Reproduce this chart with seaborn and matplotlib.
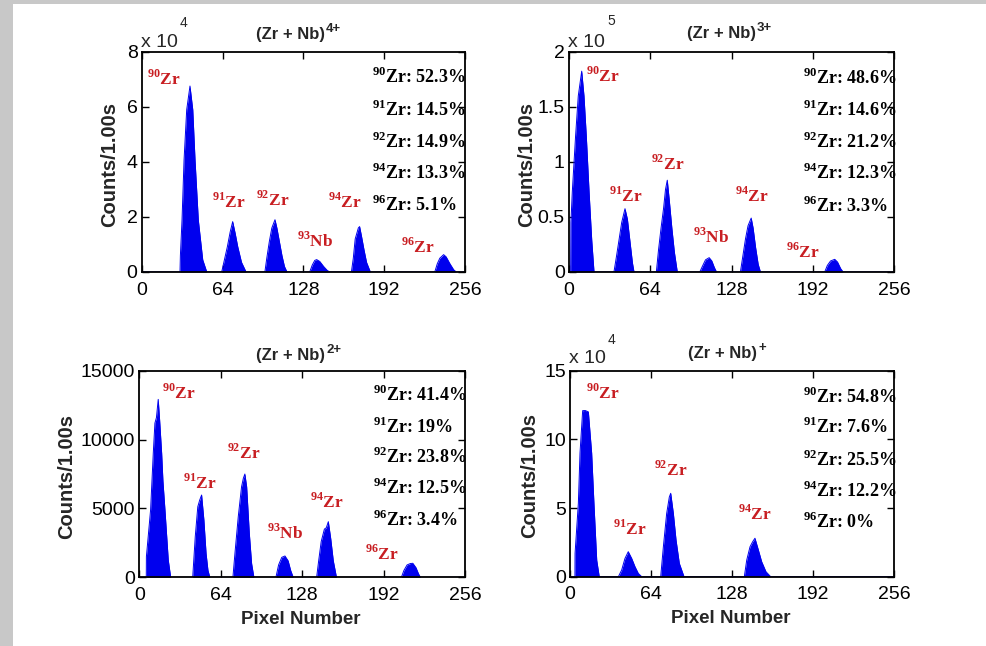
import matplotlib
matplotlib.use("Agg")
import matplotlib.pyplot as plt
import seaborn as sns
from matplotlib.patches import Rectangle

# ---------------- data ----------------
# (Zr + Nb)4+ : counts in units of 1e4
pix_4 = [0, 30.3, 30.6, 31.9, 33.5, 35.6, 38.2, 40.4, 42.2, 44.8, 48.3, 51.5,
         63.3, 65.5, 67.8, 70, 72, 74, 76, 79, 82.6,
         97.5, 99, 101, 103, 105.5, 107, 109, 111, 113, 115,
         133, 135, 137, 138.5, 141, 144, 147, 149,
         166, 167.5, 169, 171.5, 172.5, 174, 176, 178, 181,
         232, 234, 236, 239, 241, 244, 247, 249, 256]
cnt_4 = [0, 0, 0.6, 1.89, 4.07, 5.9, 6.76, 5.9, 4.07, 1.89, 0.44, 0,
         0, 0.45, 0.92, 1.45, 1.83, 1.4, 0.92, 0.35, 0,
         0, 0.5, 1.1, 1.6, 1.9, 1.6, 1.1, 0.6, 0.2, 0,
         0, 0.25, 0.42, 0.45, 0.38, 0.2, 0.05, 0,
         0, 0.5, 1.2, 1.6, 1.65, 1.3, 0.8, 0.35, 0,
         0, 0.3, 0.5, 0.63, 0.55, 0.3, 0.08, 0, 0]

# (Zr + Nb)3+ : counts in units of 1e5
pix_3 = [0, 1.3, 1.5, 2.6, 5.2, 7.3, 10.0, 11.8, 13.6, 15.8, 17.9, 19.7,
         35.4, 37.5, 39.5, 41.5, 44.1, 46, 48, 50, 51.2,
         68.8, 70.5, 72.5, 74.5, 76, 77.4, 79, 81, 83, 85.3,
         103, 105, 107.5, 110.4, 112.5, 114.5, 116.2,
         135, 137, 139, 141, 143.5, 145, 147, 149, 150.8,
         201.4, 203.5, 206, 209.3, 211.5, 214, 215.9, 256]
cnt_3 = [0, 0, 0.45, 0.73, 1.24, 1.6, 1.825, 1.6, 1.24, 0.73, 0.29, 0,
         0, 0.15, 0.3, 0.45, 0.575, 0.48, 0.28, 0.08, 0,
         0, 0.2, 0.4, 0.58, 0.75, 0.834, 0.65, 0.4, 0.18, 0,
         0, 0.05, 0.11, 0.13, 0.1, 0.04, 0,
         0, 0.15, 0.3, 0.42, 0.49, 0.4, 0.22, 0.07, 0,
         0, 0.06, 0.1, 0.115, 0.09, 0.03, 0, 0]

# (Zr + Nb)2+ : counts
pix_2 = [0, 5.5, 5.6, 8.9, 11.0, 12.3, 13.5, 14.9, 16.0, 17.6, 18.6, 20.2, 22.8, 24.7,
         42, 44, 46, 47.5, 49, 50.8, 52.5, 54, 55.5,
         73.6, 75.2, 77.8, 80.4, 81.8, 83, 84.4, 86.5, 88.3, 90.1,
         107.4, 109.5, 112, 114.5, 117, 119, 121,
         139.4, 141, 143, 145.5, 147, 148.6, 150.5, 152.5, 155,
         206, 208, 210.5, 213, 215, 217.5, 219.5, 221, 256]
cnt_2 = [0, 0, 1500, 4890, 9000, 11200, 11600, 12920, 11420, 9000, 7000, 4890, 1250, 0,
         0, 2950, 5130, 5610, 5975, 4160, 1740, 500, 0,
         0, 1740, 4400, 6580, 7190, 7500, 6580, 3190, 1000, 0,
         0, 900, 1450, 1550, 1200, 500, 0,
         0, 1200, 2600, 3500, 3600, 4040, 2800, 1200, 0,
         0, 500, 900, 1000, 1020, 700, 250, 0, 0]

# (Zr + Nb)+ : counts in units of 1e4
pix_1 = [0, 3.9, 4.0, 6.6, 7.9, 10.0, 12.0, 14.5, 17.1, 18.9, 21.1, 23.1,
         38.2, 40.8, 43.4, 46, 48.7, 51.3, 53.9, 56.6,
         71.6, 73.7, 76.3, 78.4, 79.5, 81.6, 83.7, 86.3, 90,
         137.6, 139.5, 142.1, 144.2, 146, 148.7, 151.3, 154.7, 158.4, 256]
cnt_1 = [0, 0, 1.7, 5.35, 9.0, 12.09, 12.1, 12.0, 9.0, 5.35, 1.2, 0,
         0, 0.49, 1.33, 1.82, 1.33, 0.73, 0.24, 0,
         0, 2.18, 4.6, 5.8, 6.07, 4.6, 2.67, 0.97, 0,
         0, 1.21, 2.18, 2.55, 2.8, 1.94, 1.09, 0.36, 0, 0]

# peak labels
iso_6 = ["90", "91", "92", "93", "94", "96"]
elem_6 = ["Zr", "Zr", "Zr", "Nb", "Zr", "Zr"]
lab_x_4 = [17.3, 69.1, 104, 137.6, 161, 218.4]
lab_y_4 = [7.02, 2.55, 2.62, 1.13, 2.53, 0.89]
lab_x_3 = [26.4, 44.4, 77.8, 111.9, 143.9, 184.3]
lab_y_3 = [1.777, 0.69, 0.98, 0.314, 0.686, 0.18]
lab_x_2 = [31.3, 47.7, 82.1, 114.5, 147.3, 190.5]
lab_y_2 = [13360, 6846, 9000, 3195, 5490, 1680]
iso_1 = ["90", "91", "92", "94"]
elem_1 = ["Zr", "Zr", "Zr", "Zr"]
lab_x_1 = [25.9, 47.4, 79.9, 146]
lab_y_1 = [13.35, 3.46, 7.77, 4.55]

# abundance tables
abund_iso = ["90", "91", "92", "94", "96"]
abund_4 = ["52.3%", "14.5%", "14.9%", "13.3%", "5.1%"]
abund_3 = ["48.6%", "14.6%", "21.2%", "12.3%", "3.3%"]
abund_2 = ["41.4%", "19%", "23.8%", "12.5%", "3.4%"]
abund_1 = ["54.8%", "7.6%", "25.5%", "12.2%", "0%"]

charges = ["4+", "3+", "2+", "+"]
x_ticks = [0, 64, 128, 192, 256]

# ---------------- style ----------------
sns.set_theme(style="ticks")
plt.rcParams["font.family"] = ["Liberation Sans", "DejaVu Sans"]
plt.rcParams["mathtext.fontset"] = "custom"
plt.rcParams["mathtext.rm"] = "Liberation Serif:bold"
plt.rcParams["mathtext.bf"] = "Liberation Serif:bold"
plt.rcParams["mathtext.sf"] = "Liberation Sans:bold"
plt.rcParams["mathtext.tt"] = "Liberation Sans"

BLUE = "#0000ee"
RED = "#c81e22"

fig = plt.figure(figsize=(9.87, 6.46), dpi=100)
fig.patch.set_facecolor("white")
fig.patches.append(Rectangle((0, 0), 13 / 987, 1, transform=fig.transFigure,
                             facecolor="#c8c8c8", edgecolor="none", zorder=0))
fig.patches.append(Rectangle((0, 1 - 4 / 646), 1, 4 / 646, transform=fig.transFigure,
                             facecolor="#c8c8c8", edgecolor="none", zorder=0))

panels = [
    dict(rect=[0.1436, 0.579, 0.3276, 0.3406], x=pix_4, y=cnt_4, ymax=8,
         yt=[0, 2, 4, 6, 8], ytl=["0", "2", "4", "6", "8"], exp="4",
         iso=iso_6, el=elem_6, lx=lab_x_4, ly=lab_y_4, ab=abund_4, q=charges[0],
         tx=0.460, ty=1.059, ax_x=0.712, ab_y=[0.859, 0.709, 0.564, 0.423, 0.277],
         ylx=-0.098, exp_pos=(1.041, 0.116, 1.13), xlabel=False),
    dict(rect=[0.5765, 0.579, 0.3293, 0.3406], x=pix_3, y=cnt_3, ymax=2,
         yt=[0, 0.5, 1, 1.5, 2], ytl=["0", "0.5", "1", "1.5", "2"], exp="5",
         iso=iso_6, el=elem_6, lx=lab_x_3, ly=lab_y_3, ab=abund_3, q=charges[1],
         tx=0.469, ty=1.064, ax_x=0.721, ab_y=[0.855, 0.709, 0.564, 0.423, 0.273],
         ylx=-0.129, exp_pos=(1.041, 0.119, 1.14), xlabel=False),
    dict(rect=[0.1411, 0.1063, 0.330, 0.3198], x=pix_2, y=cnt_2, ymax=15000,
         yt=[0, 5000, 10000, 15000], ytl=["0", "5000", "10000", "15000"], exp=None,
         iso=iso_6, el=elem_6, lx=lab_x_2, ly=lab_y_2, ab=abund_2, q=charges[2],
         tx=0.464, ty=1.052, ax_x=0.718, ab_y=[0.853, 0.698, 0.553, 0.403, 0.249],
         ylx=-0.222, exp_pos=None, xlabel=True),
    dict(rect=[0.5775, 0.1073, 0.3286, 0.3189], x=pix_1, y=cnt_1, ymax=15,
         yt=[0, 5, 10, 15], ytl=["0", "5", "10", "15"], exp="4",
         iso=iso_1, el=elem_1, lx=lab_x_1, ly=lab_y_1, ab=abund_1, q=charges[3],
         tx=0.470, ty=1.062, ax_x=0.719, ab_y=[0.845, 0.699, 0.538, 0.385, 0.238],
         ylx=-0.123, exp_pos=(1.06, 0.116, 1.15), xlabel=True),
]

for p in panels:
    ax = fig.add_axes(p["rect"])
    ax.set_facecolor("white")
    ax.fill_between(p["x"], p["y"], 0, color=BLUE, lw=0, zorder=1.5)
    sns.lineplot(x=p["x"], y=p["y"], ax=ax, color=BLUE, linewidth=0.7,
                 estimator=None, sort=False, zorder=1.6)
    ax.set_xlim(0, 256)
    ax.set_ylim(0, p["ymax"])
    ax.set_xticks(x_ticks, [str(t) for t in x_ticks])
    ax.set_yticks(p["yt"], p["ytl"])
    ax.tick_params(direction="in", top=True, right=True, length=5, width=1,
                   labelsize=14, colors="black")
    ax.tick_params(axis="x", pad=7)
    ax.tick_params(axis="y", pad=3)
    for s in ax.spines.values():
        s.set_linewidth(1.3)
        s.set_color("black")
        s.set_visible(True)
        s.set_zorder(4)
    ax.set_xlabel("")
    ax.set_ylabel("")

    # title with superscript charge
    t = ax.text(p["tx"], p["ty"], "(Zr + Nb)", transform=ax.transAxes,
                ha="center", va="baseline", fontsize=12, fontweight="bold")
    ax.annotate(p["q"], xy=(1, 1), xycoords=t, xytext=(0.8, 3),
                textcoords="offset points", ha="left", va="top",
                fontsize=9.5, fontweight="bold")
    # y label
    ax.text(p["ylx"], 0.49, "Counts/1.00s", transform=ax.transAxes, rotation=90,
            ha="center", va="center", fontsize=14.5, fontweight="bold")
    if p["xlabel"]:
        ax.text(0.495, -0.203, "Pixel Number", transform=ax.transAxes,
                ha="center", va="center", fontsize=13.5, fontweight="bold")
    # exponent
    if p["exp"] is not None:
        ey, ex, ey2 = p["exp_pos"]
        ax.text(-0.003, ey, "x 10", transform=ax.transAxes, ha="left",
                va="center", fontsize=14)
        ax.text(ex, ey2, p["exp"], transform=ax.transAxes, ha="left",
                va="center", fontsize=10)
    # peak labels
    for iso, el, lx, ly in zip(p["iso"], p["el"], p["lx"], p["ly"]):
        ax.text(lx, ly, r"$^{\mathrm{" + iso + "}}$" + el, ha="center", va="center",
                color=RED, fontsize=12.5, fontweight="bold",
                family="Liberation Serif", zorder=5)
    # abundances
    for iso, val, yy in zip(abund_iso, p["ab"], p["ab_y"]):
        ax.text(p["ax_x"], yy, r"$^{\mathrm{" + iso + "}}$Zr: " + val,
                transform=ax.transAxes, ha="left", va="baseline",
                fontsize=13, fontweight="bold", family="Liberation Serif",
                color="black", zorder=5)

fig.savefig("out.png", dpi=100, facecolor="white")
